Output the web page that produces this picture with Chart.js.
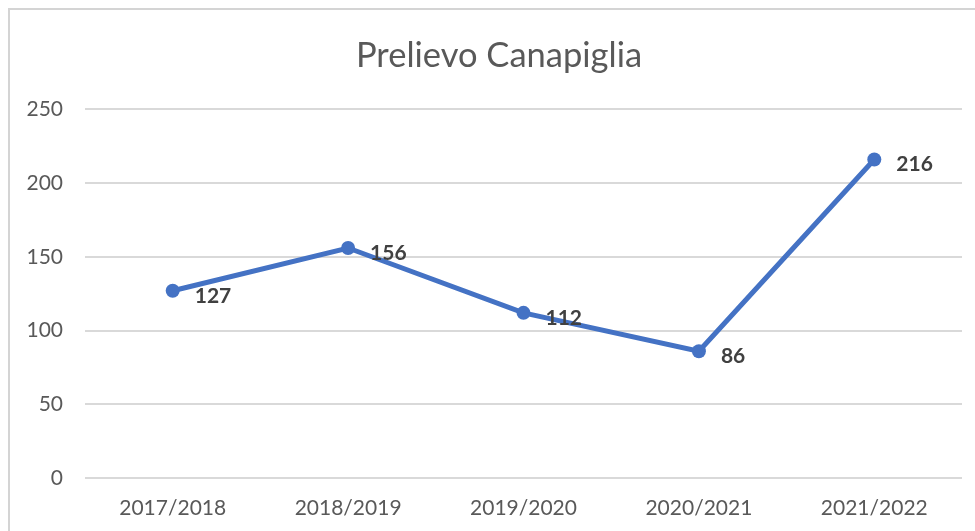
<!DOCTYPE html>
<html>
<head>
<meta charset="utf-8">
<script src="https://cdn.jsdelivr.net/npm/chart.js@4"></script>
<style>
    html, body { margin: 0; padding: 0; background: #fff; overflow: hidden; }
    #wrap { position: relative; width: 975px; height: 531px; overflow: hidden; }
    #frame { position: absolute; left: 8px; top: 8px; width: 1100px; height: 700px; border: 2px solid #d4d4d4; box-sizing: border-box; }
    #prelievoChart { position: absolute; left: 0; top: 0; }
</style>
</head>
<body>
<div id="wrap">
    <div id="frame"></div>
    <canvas id="prelievoChart" width="975" height="531"></canvas>
</div>
<script>
// dati
const stagioni = ['2017/2018', '2018/2019', '2019/2020', '2020/2021', '2021/2022'];
const prelievo = [127, 156, 112, 86, 216];
const yTicks = [0, 50, 100, 150, 200, 250];

const FONT = 'Lato, Calibri, "Liberation Sans", sans-serif';

// etichette dei valori a destra dei punti
const valueLabels = {
    id: 'valueLabels',
    afterDatasetsDraw(chart) {
        const ctx = chart.ctx;
        const meta = chart.getDatasetMeta(0);
        ctx.save();
        ctx.font = 'bold 21px ' + FONT;
        ctx.fillStyle = '#404040';
        ctx.textAlign = 'left';
        ctx.textBaseline = 'middle';
        meta.data.forEach((pt, i) => {
            ctx.fillText(chart.data.datasets[0].data[i], pt.x + 22, pt.y + 5);
        });
        ctx.restore();
    }
};

// il titolo è centrato sulla cornice, non sul canvas
const shiftTitle = {
    id: 'shiftTitle',
    afterLayout(chart) {
        if (chart.titleBlock) {
            chart.titleBlock.left += 18;
            chart.titleBlock.right += 18;
        }
    }
};

const ctx = document.getElementById('prelievoChart').getContext('2d');
const prelievoChart = new Chart(ctx, {
    type: 'line',
    data: {
        labels: stagioni,
        datasets: [{
            label: 'Prelievo',
            data: prelievo,
            borderColor: '#4472C4',
            backgroundColor: '#4472C4',
            borderWidth: 5,
            pointRadius: 7,
            pointBackgroundColor: '#4472C4',
            pointBorderWidth: 0,
            tension: 0
        }]
    },
    options: {
        responsive: false,
        animation: false,
        layout: { padding: { left: 0, right: 13, top: 0, bottom: 0 } },
        plugins: {
            legend: { display: false },
            tooltip: { enabled: false },
            title: {
                display: true,
                text: 'Prelievo Canapiglia',
                color: '#595959',
                font: { family: FONT, size: 34.5, weight: 'normal' },
                padding: { top: 35, bottom: 33 }
            }
        },
        scales: {
            x: {
                offset: true,
                grid: { display: false, drawTicks: false },
                border: { display: false },
                ticks: {
                    color: '#595959',
                    font: { family: FONT, size: 21 },
                    padding: 18,
                    maxRotation: 0
                },
                afterFit: function (scale) { scale.height = 53; }
            },
            y: {
                min: 0,
                max: 250,
                afterBuildTicks: function (scale) {
                    scale.ticks = yTicks.map(v => ({ value: v }));
                },
                grid: { color: '#d9d9d9', lineWidth: 2, drawTicks: false },
                border: { display: false },
                ticks: {
                    color: '#595959',
                    font: { family: FONT, size: 21 },
                    padding: 22
                },
                afterFit: function (scale) { scale.width = 85; }
            }
        }
    },
    plugins: [shiftTitle, valueLabels]
});
</script>
</body>
</html>
